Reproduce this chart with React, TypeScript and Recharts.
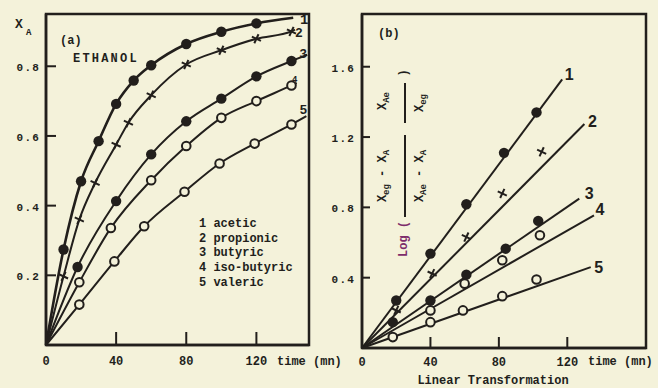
import { ComposedChart, Line, Scatter, XAxis, YAxis, ReferenceArea } from 'recharts';

const ink = '#221f1c';
const paper = '#f4f2da';
const mono = '"Liberation Mono", "DejaVu Sans Mono", monospace';

// names and curve numbers shared by both panels
const acidNames = ['acetic', 'propionic', 'butyric', 'iso-butyric', 'valeric'];
const curveLabels = ['1', '2', '3', '4', '5'];
const markerKinds = ['filled', 'plus', 'filled', 'open', 'open'];

// (a) conversion X_A against time (mn)
const aTimeAcetic = [10, 20, 30, 40, 50, 60, 80, 100, 120];
const aXAcetic = [0.274, 0.47, 0.585, 0.692, 0.759, 0.803, 0.864, 0.899, 0.923];
const aTimePropionic = [10, 19, 28, 40, 47, 60, 80, 100, 120, 140];
const aXPropionic = [0.197, 0.36, 0.465, 0.575, 0.638, 0.717, 0.805, 0.846, 0.879, 0.9];
const aTimeButyric = [18, 40, 60, 80, 100, 120, 140];
const aXButyric = [0.224, 0.413, 0.547, 0.642, 0.707, 0.771, 0.815];
const aTimeIso = [19, 37, 60, 80, 100, 120, 140];
const aXIso = [0.18, 0.336, 0.473, 0.571, 0.652, 0.7, 0.745];
const aTimeValeric = [19, 39, 56, 79, 99, 119, 140];
const aXValeric = [0.116, 0.24, 0.341, 0.44, 0.521, 0.578, 0.633];
// where each drawn curve stops
const aCurveEndTime = [141, 142, 149, 143, 148.5];
const aCurveEndX = [0.939, 0.905, 0.833, 0.752, 0.657];
const aXDomain = [0, 150];
const aYDomain = [0, 0.95];
const aXTicks = [0, 40, 80, 120];
const aYTicks = [0.2, 0.4, 0.6, 0.8];

// (b) linear transformation against time (mn)
const bTime1 = [20, 40, 61, 83, 102];
const bLog1 = [0.27, 0.537, 0.818, 1.11, 1.34];
const bTime2 = [20, 41, 61, 82, 105];
const bLog2 = [0.214, 0.423, 0.631, 0.879, 1.116];
const bTime3 = [18, 40, 61, 84, 103];
const bLog3 = [0.147, 0.27, 0.417, 0.565, 0.723];
const bTime4 = [40, 60, 82, 104];
const bLog4 = [0.214, 0.366, 0.499, 0.641];
const bTime5 = [18, 40, 59, 82, 102];
const bLog5 = [0.062, 0.147, 0.214, 0.295, 0.39];
// fitted straight lines, from the origin to these ends
const bFitEndTime = [117, 130, 127, 135.6, 133.7];
const bFitEndLog = [1.528, 1.274, 0.85, 0.755, 0.46];
const bXDomain = [0, 166];
const bYDomain = [0, 1.9];
const bXTicks = [0, 40, 80, 120];
const bYTicks = [0.4, 0.8, 1.2, 1.6];

const pts = (ts: number[], vs: number[]) => ts.map((t, i) => ({ t, v: vs[i] }));

const aSeries = [
  pts(aTimeAcetic, aXAcetic),
  pts(aTimePropionic, aXPropionic),
  pts(aTimeButyric, aXButyric),
  pts(aTimeIso, aXIso),
  pts(aTimeValeric, aXValeric),
].map((points, i) => ({
  points,
  curve: [{ t: 0, v: 0 }, ...points, { t: aCurveEndTime[i], v: aCurveEndX[i] }],
}));

const bSeries = [
  pts(bTime1, bLog1),
  pts(bTime2, bLog2),
  pts(bTime3, bLog3),
  pts(bTime4, bLog4),
  pts(bTime5, bLog5),
].map((points, i) => ({
  points,
  curve: [{ t: 0, v: 0 }, { t: bFitEndTime[i], v: bFitEndLog[i] }],
}));

// label offsets for the curve numbers
const aLabelOff = [[11, 6], [4, 7], [-4, 3], [-2, -1], [-3, -2]];
const aLabelSize = [14, 13, 13, 9, 13];
const bLabelOff = [[7, 1], [8, 3], [10, 0], [6, 0], [8, 6]];

function Marker({ cx, cy, kind }: { cx: number; cy: number; kind: string }) {
  if (cx == null || cy == null) return <g />;
  if (kind === 'filled') return <circle cx={cx} cy={cy} r={5.2} fill={ink} />;
  if (kind === 'open')
    return <circle cx={cx} cy={cy} r={4.3} fill={paper} stroke={ink} strokeWidth={2} />;
  return (
    <g transform={`translate(${cx},${cy}) rotate(25)`} stroke={ink} strokeWidth={2}>
      <line x1={-5} x2={5} y1={0} y2={0} />
      <line x1={0} x2={0} y1={-5} y2={5} />
    </g>
  );
}

const xTick = (len: number, dy: number) => (props: any) => {
  const { x, y, payload } = props;
  return (
    <g>
      <line x1={x} x2={x} y1={y - 1} y2={y - 1 - len} stroke={ink} strokeWidth={2} />
      <text x={x} y={y + dy} textAnchor="middle" fontFamily={mono} fontWeight="bold" fontSize={12} fill={ink}>
        {payload.value}
      </text>
    </g>
  );
};

const yTick = (len: number, gap: number) => (props: any) => {
  const { x, y, payload } = props;
  return (
    <g>
      <line x1={x} x2={x + len} y1={y} y2={y} stroke={ink} strokeWidth={2} />
      <text
        x={x - gap}
        y={y + 5}
        textAnchor="end"
        fontFamily={mono}
        fontWeight="bold"
        fontSize={11}
        letterSpacing={1.2}
        fill={ink}
      >
        {payload.value.toFixed(1)}
      </text>
    </g>
  );
};

const endLabel = (i: number, last: number, off: number[][], size: number, family: string) => (p: any) =>
  p.index === last ? (
    <text
      key={`lab-${i}`}
      x={p.x + off[i][0]}
      y={p.y + off[i][1]}
      textAnchor="middle"
      fontFamily={family}
      fontWeight="bold"
      fontSize={size}
      fill={ink}
    >
      {curveLabels[i]}
    </text>
  ) : null;

function PanelA() {
  return (
    <ComposedChart width={330} height={388} margin={{ top: 14, right: 21, bottom: 42, left: 45 }}>
      <XAxis
        type="number"
        dataKey="t"
        domain={aXDomain}
        ticks={aXTicks}
        height={1}
        tickSize={0}
        tickMargin={0}
        tickLine={false}
        tick={xTick(12, 20)}
        axisLine={{ stroke: ink, strokeWidth: 2.5 }}
      />
      <YAxis
        type="number"
        dataKey="v"
        domain={aYDomain}
        ticks={aYTicks}
        width={1}
        tickSize={0}
        tickMargin={0}
        tickLine={false}
        tick={yTick(10, 6)}
        axisLine={{ stroke: ink, strokeWidth: 2.5 }}
      />
      <ReferenceArea
        x1={aXDomain[0]}
        x2={aXDomain[1]}
        y1={aYDomain[0]}
        y2={aYDomain[1]}
        fill="none"
        fillOpacity={0}
        stroke={ink}
        strokeWidth={2.5}
        ifOverflow="visible"
      />
      {aSeries.map((s, i) => (
        <Line
          key={`a-line-${i}`}
          data={s.curve}
          dataKey="v"
          type="monotone"
          stroke={ink}
          strokeWidth={i === 0 ? 2.6 : 2}
          dot={false}
          activeDot={false}
          isAnimationActive={false}
          label={endLabel(i, s.curve.length - 1, aLabelOff, aLabelSize[i], mono)}
        />
      ))}
      {aSeries.map((s, i) => (
        <Scatter
          key={`a-pts-${i}`}
          data={s.points}
          isAnimationActive={false}
          shape={(p: any) => <Marker cx={p.cx} cy={p.cy} kind={markerKinds[i]} />}
        />
      ))}
    </ComposedChart>
  );
}

function PanelB() {
  return (
    <ComposedChart width={328} height={388} margin={{ top: 14, right: 12, bottom: 39, left: 31 }}>
      <XAxis
        type="number"
        dataKey="t"
        domain={bXDomain}
        ticks={bXTicks}
        height={1}
        tickSize={0}
        tickMargin={0}
        tickLine={false}
        tick={xTick(10, 18)}
        axisLine={{ stroke: ink, strokeWidth: 2.5 }}
      />
      <YAxis
        type="number"
        dataKey="v"
        domain={bYDomain}
        ticks={bYTicks}
        width={1}
        tickSize={0}
        tickMargin={0}
        tickLine={false}
        tick={yTick(8, 7)}
        axisLine={{ stroke: ink, strokeWidth: 2.5 }}
      />
      <ReferenceArea
        x1={bXDomain[0]}
        x2={bXDomain[1]}
        y1={bYDomain[0]}
        y2={bYDomain[1]}
        fill="none"
        fillOpacity={0}
        stroke={ink}
        strokeWidth={2.5}
        ifOverflow="visible"
      />
      {bSeries.map((s, i) => (
        <Line
          key={`b-line-${i}`}
          data={s.curve}
          dataKey="v"
          type="linear"
          stroke={ink}
          strokeWidth={2}
          dot={false}
          activeDot={false}
          isAnimationActive={false}
          label={endLabel(i, 1, bLabelOff, 16, '"Liberation Sans", Arial, sans-serif')}
        />
      ))}
      {bSeries.map((s, i) => (
        <Scatter
          key={`b-pts-${i}`}
          data={s.points}
          isAnimationActive={false}
          shape={(p: any) => <Marker cx={p.cx} cy={p.cy} kind={markerKinds[i]} />}
        />
      ))}
    </ComposedChart>
  );
}

// rotated text, reads bottom to top
function VText({ x, y, main, sub, main2, sub2, anchor = 'middle', fill = ink }: any) {
  return (
    <text
      transform={`translate(${x},${y}) rotate(-90)`}
      textAnchor={anchor}
      fontFamily={mono}
      fontWeight="bold"
      fontSize={12}
      fill={fill}
    >
      {main}
      {sub && (
        <tspan dy={3} fontSize={9}>
          {sub}
        </tspan>
      )}
      {main2 && <tspan dy={sub ? -3 : 0}>{main2}</tspan>}
      {sub2 && (
        <tspan dy={3} fontSize={9}>
          {sub2}
        </tspan>
      )}
    </text>
  );
}

function Overlay() {
  const t = { fontFamily: mono, fontWeight: 'bold' as const, fill: ink };
  return (
    <svg width={658} height={388} style={{ position: 'absolute', left: 0, top: 0, pointerEvents: 'none' }}>
      {/* panel (a) */}
      <text x={15} y={28} {...t} fontSize={13}>
        X
      </text>
      <text x={26} y={35} {...t} fontSize={9}>
        A
      </text>
      <text x={60} y={44} {...t} fontSize={12}>
        (a)
      </text>
      <text x={73} y={62} {...t} fontSize={12} letterSpacing={2.2}>
        ETHANOL
      </text>
      <text x={277} y={365} {...t} fontSize={12}>
        time (mn)
      </text>
      {acidNames.map((n, i) => (
        <text key={n} x={199} y={227 + i * 14.7} {...t} fontSize={12}>
          {curveLabels[i]} {n}
        </text>
      ))}

      {/* panel (b) */}
      <text x={378} y={37} {...t} fontSize={12}>
        (b)
      </text>
      <text x={588} y={365} {...t} fontSize={12}>
        time (mn)
      </text>
      <text x={493} y={384} {...t} fontSize={12} textAnchor="middle">
        Linear Transformation
      </text>
      <VText x={407} y={257} main="Log (" anchor="start" fill="#7d2d6b" />
      <VText x={386} y={176} main="X" sub="eg" main2=" - X" sub2="A" />
      <VText x={423} y={176} main="X" sub="Ae" main2=" - X" sub2="A" />
      <VText x={386} y={101} main="X" sub="Ae" />
      <VText x={423} y={103} main="X" sub="eg" />
      <line x1={405} x2={405} y1={83} y2={123} stroke={ink} strokeWidth={2} />
      <line x1={405} x2={405} y1={135} y2={217} stroke={ink} strokeWidth={2} />
      <VText x={407} y={73} main=")" />
    </svg>
  );
}

export default function App() {
  return (
    <div style={{ position: 'absolute', left: 0, top: 0, width: 658, height: 388, background: paper, overflow: 'hidden' }}>
      <div style={{ position: 'absolute', left: 0, top: 0 }}>
        <PanelA />
      </div>
      <div style={{ position: 'absolute', left: 330, top: 0 }}>
        <PanelB />
      </div>
      <Overlay />
    </div>
  );
}
